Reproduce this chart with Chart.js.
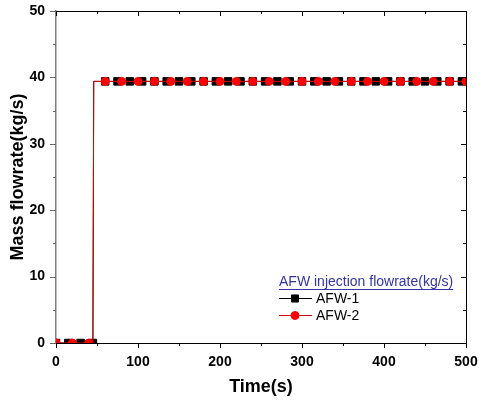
<!DOCTYPE html>
<html>
<head>
<meta charset="utf-8">
<script src="https://cdn.jsdelivr.net/npm/chart.js@4"></script>
<style>
  html, body { margin: 0; padding: 0; background: #fff; }
  #wrap { width: 479px; height: 400px; }
</style>
</head>
<body>
<div id="wrap"><canvas id="flowChart"></canvas></div>
<script>
// time (s) and mass flowrate (kg/s)
const afw1Time = [0, 15, 30, 45, 46, 60, 75, 90, 105, 120, 135, 150, 165, 180, 195, 210, 225, 240, 255, 270,
                  285, 300, 315, 330, 345, 360, 375, 390, 405, 420, 435, 450, 465, 480, 495];
const afw1Flow = [0, 0, 0, 0, 39.4, 39.4, 39.4, 39.4, 39.4, 39.4, 39.4, 39.4, 39.4, 39.4, 39.4, 39.4, 39.4, 39.4, 39.4, 39.4,
                  39.4, 39.4, 39.4, 39.4, 39.4, 39.4, 39.4, 39.4, 39.4, 39.4, 39.4, 39.4, 39.4, 39.4, 39.4];
const afw2Time = [0, 20, 40, 45, 46, 60, 80, 100, 120, 140, 160, 180, 200, 220, 240, 260, 280, 300, 320, 340,
                  360, 380, 400, 420, 440, 460, 480, 500];
const afw2Flow = [0, 0, 0, 0, 39.4, 39.4, 39.4, 39.4, 39.4, 39.4, 39.4, 39.4, 39.4, 39.4, 39.4, 39.4, 39.4, 39.4, 39.4, 39.4,
                  39.4, 39.4, 39.4, 39.4, 39.4, 39.4, 39.4, 39.4];
// samples that only shape the step (no symbol drawn)
const afw1StepOnly = [46];
const afw2StepOnly = [45, 46];

const seriesLabels = ['AFW-1', 'AFW-2'];
const legendTitle = 'AFW injection flowrate(kg/s)';
const xTitle = 'Time(s)';
const yTitle = 'Mass flowrate(kg/s)';

const FONT = "'Liberation Sans', Arial, sans-serif";

function toPoints(times, flows) {
    return times.map((t, i) => ({ x: t, y: flows[i] }));
}

// outward ticks on bottom/left, inward ticks on top/right, plus the top/right frame
const frameTicks = {
    id: 'frameTicks',
    afterDraw(chart) {
        const ctx = chart.ctx;
        const a = chart.chartArea;
        const xs = chart.scales.x, ys = chart.scales.y;
        const xMajor = xs.ticks.map(t => t.value);
        const yMajor = ys.ticks.map(t => t.value);
        const xMinor = xMajor.slice(1).map((v, i) => (v + xMajor[i]) / 2);
        const yMinor = yMajor.slice(1).map((v, i) => (v + yMajor[i]) / 2);

        ctx.save();
        ctx.lineWidth = 1;
        ctx.strokeStyle = '#000';
        ctx.beginPath();
        ctx.moveTo(a.left, a.top + 0.5);
        ctx.lineTo(a.right + 0.5, a.top + 0.5);
        ctx.lineTo(a.right + 0.5, a.bottom);
        ctx.stroke();

        ctx.beginPath();
        xMajor.forEach(v => {
            const px = Math.round(xs.getPixelForValue(v)) + 0.5;
            ctx.moveTo(px, a.bottom); ctx.lineTo(px, a.bottom + 5);
            ctx.moveTo(px, a.top); ctx.lineTo(px, a.top + 5);
        });
        xMinor.forEach(v => {
            const px = Math.round(xs.getPixelForValue(v)) + 0.5;
            ctx.moveTo(px, a.bottom); ctx.lineTo(px, a.bottom + 3);
            ctx.moveTo(px, a.top); ctx.lineTo(px, a.top + 3);
        });
        yMajor.forEach(v => {
            const py = Math.round(ys.getPixelForValue(v)) + 0.5;
            ctx.moveTo(a.right, py); ctx.lineTo(a.right - 5, py);
        });
        yMinor.forEach(v => {
            const py = Math.round(ys.getPixelForValue(v)) + 0.5;
            ctx.moveTo(a.right, py); ctx.lineTo(a.right - 3, py);
        });
        ctx.stroke();

        ctx.strokeStyle = '#666';
        ctx.beginPath();
        yMajor.forEach(v => {
            const py = Math.round(ys.getPixelForValue(v)) + 0.5;
            ctx.moveTo(a.left, py); ctx.lineTo(a.left - 6, py);
        });
        yMinor.forEach(v => {
            const py = Math.round(ys.getPixelForValue(v)) + 0.5;
            ctx.moveTo(a.left, py); ctx.lineTo(a.left - 3, py);
        });
        ctx.stroke();
        ctx.restore();
    }
};

// legend box inside the plot, lower right
const boxLegend = {
    id: 'boxLegend',
    afterDraw(chart) {
        const ctx = chart.ctx;
        const x0 = 279, y0 = 282;
        ctx.save();
        ctx.font = '14px ' + FONT;
        ctx.fillStyle = '#3434a4';
        ctx.textBaseline = 'middle';
        ctx.textAlign = 'left';
        ctx.fillText(legendTitle, x0, y0);
        const w = ctx.measureText(legendTitle).width;
        ctx.strokeStyle = '#3434a4';
        ctx.lineWidth = 1;
        ctx.beginPath();
        ctx.moveTo(x0, y0 + 7.5); ctx.lineTo(x0 + w, y0 + 7.5);
        ctx.stroke();

        chart.data.datasets.forEach((ds, i) => {
            const yy = y0 + 16 + i * 17;
            ctx.strokeStyle = ds.borderColor;
            ctx.lineWidth = 1;
            ctx.beginPath();
            ctx.moveTo(x0, yy + 0.5); ctx.lineTo(x0 + 33, yy + 0.5);
            ctx.stroke();
            ctx.fillStyle = ds.pointBackgroundColor;
            ctx.strokeStyle = ds.pointBorderColor;
            Chart.helpers.drawPoint(ctx, {
                pointStyle: ds.pointStyle,
                radius: ds.legendRadius,
                rotation: 0,
                borderWidth: 1
            }, x0 + 16, yy + 0.5);
            ctx.fillStyle = '#000';
            ctx.font = '14px ' + FONT;
            ctx.fillText(ds.label, x0 + 37, yy + 1);
        });
        ctx.restore();
    }
};

const ctx = document.getElementById('flowChart').getContext('2d');
new Chart(ctx, {
    type: 'line',
    data: {
        datasets: [
            {
                label: seriesLabels[0],
                data: toPoints(afw1Time, afw1Flow),
                borderColor: '#000',
                backgroundColor: '#000',
                pointBackgroundColor: '#000',
                pointBorderColor: '#000',
                borderWidth: 1,
                pointStyle: 'rect',
                pointRadius: c => afw1StepOnly.includes(c.raw.x) ? 0 : 5.3,
                legendRadius: 5,
                pointBorderWidth: 1,
                order: 1
            },
            {
                label: seriesLabels[1],
                data: toPoints(afw2Time, afw2Flow),
                borderColor: '#e00000',
                backgroundColor: '#ff0000',
                pointBackgroundColor: '#ff0000',
                pointBorderColor: '#ff0000',
                borderWidth: 1,
                pointStyle: 'circle',
                pointRadius: c => afw2StepOnly.includes(c.raw.x) ? 0 : 4,
                legendRadius: 4,
                pointBorderWidth: 1,
                order: 0
            }
        ]
    },
    options: {
        responsive: true,
        maintainAspectRatio: false,
        animation: false,
        layout: { padding: { top: 11, right: 13, bottom: 0, left: 0 } },
        plugins: {
            legend: { display: false },
            tooltip: { enabled: false }
        },
        scales: {
            x: {
                type: 'linear',
                min: 0,
                max: 500,
                afterFit: s => {
                    s.height = 57;
                    s.paddingLeft = 0;
                    s.paddingRight = 0;
                },
                ticks: {
                    stepSize: 100,
                    padding: 11,
                    color: '#000',
                    font: { family: FONT, size: 14, weight: 'bold' }
                },
                grid: { display: false, drawTicks: false },
                border: { display: true, color: '#000', width: 1 },
                title: {
                    display: true,
                    text: xTitle,
                    color: '#000',
                    padding: { top: 0, bottom: 2 },
                    font: { family: FONT, size: 18, weight: 'bold' }
                }
            },
            y: {
                min: 0,
                max: 50,
                afterFit: s => {
                    s.width = 56;
                    s.paddingTop = 0;
                    s.paddingBottom = 0;
                },
                ticks: {
                    stepSize: 10,
                    padding: 11,
                    color: '#000',
                    font: { family: FONT, size: 14, weight: 'bold' }
                },
                grid: { display: false, drawTicks: false },
                border: { display: true, color: '#808080', width: 1.5 },
                title: {
                    display: true,
                    text: yTitle,
                    color: '#000',
                    padding: { top: 7, bottom: 0 },
                    font: { family: FONT, size: 18, weight: 'bold' }
                }
            }
        }
    },
    plugins: [frameTicks, boxLegend]
});
</script>
</body>
</html>
